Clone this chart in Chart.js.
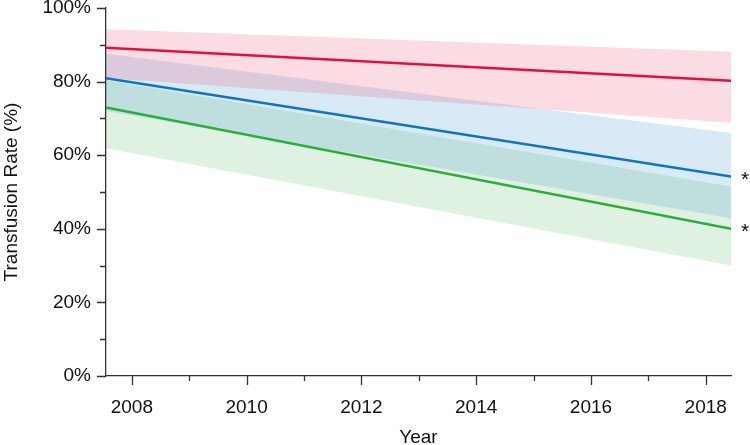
<!DOCTYPE html>
<html>
<head>
<meta charset="utf-8">
<script src="https://cdn.jsdelivr.net/npm/chart.js@4"></script>
<style>
  html, body { margin: 0; padding: 0; background: #fff; }
  #wrap { width: 750px; height: 445px; }
</style>
</head>
<body>
<div id="wrap"><canvas id="rate-chart"></canvas></div>
<script>
// data
var years = [2007.55, 2018.44];
var xTicks = [2008, 2010, 2012, 2014, 2016, 2018];
var yTicks = [0, 20, 40, 60, 80, 100];

var redLine = [89.2, 80.2];
var redUpper = [94.2, 88.1];
var redLower = [81.0, 68.8];

var blueLine = [80.9, 54.2];
var blueUpper = [87.6, 66.0];
var blueLower = [72.0, 42.9];

var greenLine = [73.0, 40.0];
var greenUpper = [80.4, 51.5];
var greenLower = [61.9, 30.0];

var starred = [blueLine, greenLine];

var FONT = '"Liberation Sans", Arial, sans-serif';

function pts(vals) {
    return vals.map(function (v, i) { return { x: years[i], y: v }; });
}

function band(upper, lower, fillColor) {
    return [{
        data: pts(upper),
        borderWidth: 0,
        pointRadius: 0,
        backgroundColor: fillColor,
        fill: '+1',
        order: 2
    }, {
        data: pts(lower),
        borderWidth: 0,
        pointRadius: 0,
        fill: false,
        order: 2
    }];
}

function line(vals, color) {
    return {
        data: pts(vals),
        borderColor: color,
        borderWidth: 2.5,
        pointRadius: 0,
        fill: false,
        order: 0
    };
}

// minor/major tick marks and the asterisks
var axisDecor = {
    id: 'axisDecor',
    afterDraw: function (chart) {
        var c = chart.ctx, xs = chart.scales.x, ys = chart.scales.y;
        var area = chart.chartArea;
        c.save();
        c.strokeStyle = '#333';
        c.lineWidth = 1.3;
        c.beginPath();
        for (var v = 0; v <= 100; v += 10) {
            var py = Math.round(ys.getPixelForValue(v)) + 0.5;
            var len = v % 20 === 0 ? 9 : 6;
            c.moveTo(area.left - len, py);
            c.lineTo(area.left, py);
        }
        for (var yr = 2008; yr <= 2018; yr++) {
            var px = Math.round(xs.getPixelForValue(yr)) + 0.5;
            var l = yr % 2 === 0 ? 9 : 5;
            c.moveTo(px, area.bottom);
            c.lineTo(px, area.bottom + l);
        }
        c.stroke();

        c.fillStyle = '#111';
        c.font = '21px ' + FONT;
        c.textAlign = 'center';
        c.textBaseline = 'alphabetic';
        starred.forEach(function (s) {
            var py = ys.getPixelForValue(s[s.length - 1]);
            c.fillText('*', area.right + 14, py + 9);
        });
        c.restore();
    }
};

var ctx = document.getElementById('rate-chart');

var chart = new Chart(ctx, {
    type: 'line',
    data: {
        datasets: []
            .concat(band(redUpper, redLower, 'rgba(230, 20, 70, 0.15)'))
            .concat(band(blueUpper, blueLower, 'rgba(0, 114, 198, 0.15)'))
            .concat(band(greenUpper, greenLower, 'rgba(40, 170, 60, 0.15)'))
            .concat([
                line(redLine, '#e3103f'),
                line(blueLine, '#0f74c2'),
                line(greenLine, '#2bad3e')
            ])
    },
    options: {
        responsive: true,
        maintainAspectRatio: false,
        animation: false,
        layout: { padding: { top: 8, right: 19, bottom: 0, left: 0 } },
        plugins: {
            legend: { display: false },
            tooltip: { enabled: false }
        },
        scales: {
            x: {
                type: 'linear',
                min: years[0],
                max: years[years.length - 1],
                afterBuildTicks: function (s) {
                    s.ticks = xTicks.map(function (v) { return { value: v }; });
                },
                afterFit: function (s) {
                    s.height = 69;
                    s.paddingLeft = 0;
                    s.paddingRight = 0;
                },
                grid: { drawOnChartArea: false, color: 'rgba(0,0,0,0)', tickLength: 9 },
                border: { display: true, color: '#333', width: 1.3 },
                ticks: {
                    padding: 11,
                    color: '#111',
                    maxRotation: 0,
                    font: { family: FONT, size: 19 },
                    callback: function (v) { return String(v); }
                },
                title: {
                    display: true,
                    text: 'Year',
                    color: '#111',
                    padding: { top: 0, bottom: -4 },
                    font: { family: FONT, size: 19 }
                }
            },
            y: {
                min: 0,
                max: 100,
                afterBuildTicks: function (s) {
                    s.ticks = yTicks.map(function (v) { return { value: v }; });
                },
                afterFit: function (s) {
                    s.width = 106;
                    s.paddingTop = 0;
                    s.paddingBottom = 0;
                },
                grid: { drawOnChartArea: false, color: 'rgba(0,0,0,0)', tickLength: 9 },
                border: { display: true, color: '#333', width: 1.3 },
                ticks: {
                    padding: 6,
                    color: '#111',
                    font: { family: FONT, size: 19 },
                    callback: function (v) { return v + '%'; }
                },
                title: {
                    display: true,
                    text: 'Transfusion Rate (%)',
                    color: '#111',
                    padding: { top: 0, bottom: 2 },
                    font: { family: FONT, size: 19 }
                }
            }
        }
    },
    plugins: [axisDecor]
});
</script>
</body>
</html>
